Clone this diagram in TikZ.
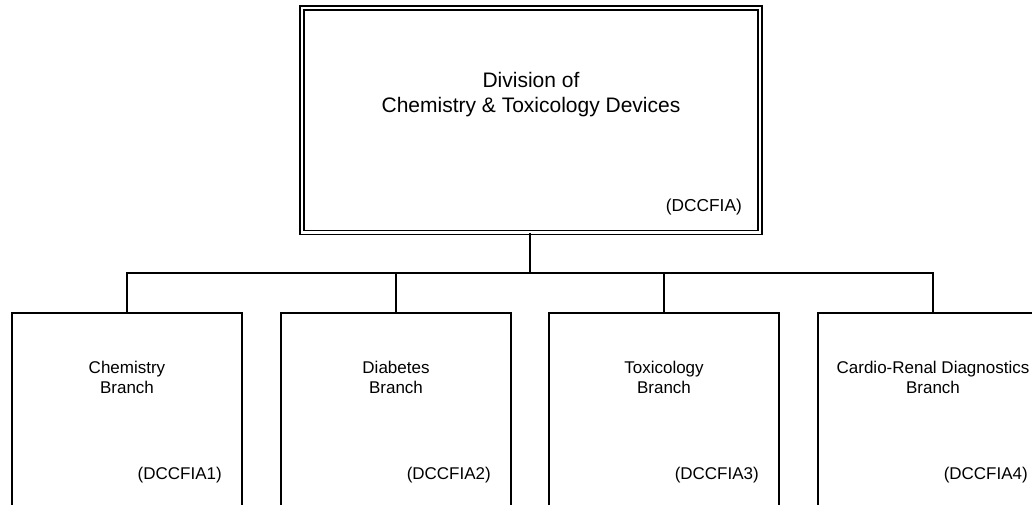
\documentclass[tikz,border=0pt]{standalone}
\usepackage{fontspec}
\setmainfont{Liberation Sans}
\begin{document}
\begin{tikzpicture}[x=1pt,y=-1pt,
  divbox/.style={draw=black, double, double distance=2.4pt, line width=1.5pt, minimum width=458pt, minimum height=224.5pt, inner sep=0pt},
  branchbox/.style={draw=black, line width=1.7pt, minimum width=230pt, minimum height=200pt, inner sep=0pt, anchor=north},
  titletext/.style={align=center, inner sep=0pt, font=\fontsize{21}{25}\selectfont},
  btext/.style={align=center, inner sep=0pt, font=\fontsize{17}{20}\selectfont},
  codetext/.style={inner sep=0pt, anchor=east, font=\fontsize{17}{20}\selectfont},
  conn/.style={draw=black, line width=1.7pt}
]
\useasboundingbox (0,0) rectangle (1032,504);
\clip (0,0) rectangle (1032,504);
\fill[white] (0,0) rectangle (1032,504);

\node[divbox] (top) at (531,120.25) {};
\node[titletext] (toptxt) at (531,94.5) {Division of\\Chemistry \& Toxicology Devices};
\node[codetext, font=\fontsize{17.3}{20}\selectfont] (topcode) at (742,207.5) {(DCCFIA)};

\node[branchbox] (b1) at (127,312) {};
\node[branchbox] (b2) at (396,312) {};
\node[branchbox] (b3) at (664,312) {};
\node[branchbox] (b4) at (933,312) {};

\node[btext] (t1) at (127,377) {Chemistry\\Branch};
\node[btext] (t2) at (396,377) {Diabetes\\Branch};
\node[btext] (t3) at (664,377) {Toxicology\\Branch};
\node[btext] (t4) at (933,377) {Cardio-Renal Diagnostics\\Branch};

\node[codetext] (c1) at (222,475) {(DCCFIA1)};
\node[codetext] (c2) at (491,475) {(DCCFIA2)};
\node[codetext] (c3) at (759,475) {(DCCFIA3)};
\node[codetext] (c4) at (1028,475) {(DCCFIA4)};

\coordinate (bus) at (530,273);
\draw[conn] (top.south -| bus) -- (bus);
\draw[conn] (b1.north) -- (b1.north |- bus) -- (b4.north |- bus) -- (b4.north);
\draw[conn] (b2.north) -- (b2.north |- bus);
\draw[conn] (b3.north) -- (b3.north |- bus);
\end{tikzpicture}
\end{document}
